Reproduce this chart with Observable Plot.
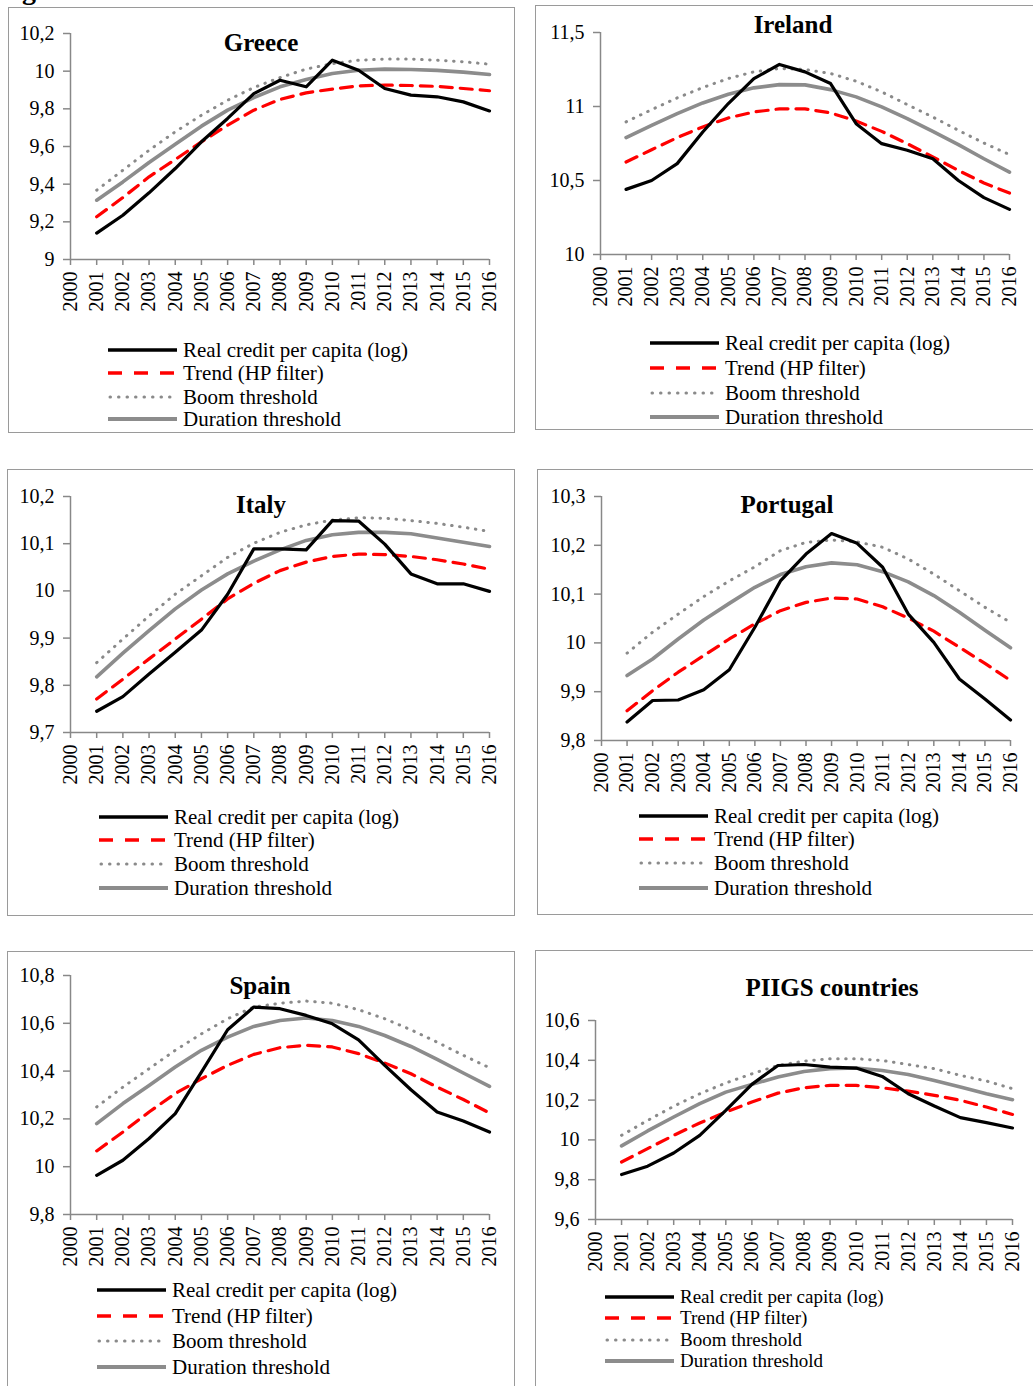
<!DOCTYPE html>
<html>
<head>
<meta charset="utf-8">
<script src="https://cdn.jsdelivr.net/npm/d3@7"></script>
<script src="https://cdn.jsdelivr.net/npm/@observablehq/plot@0.6"></script>
<style>
  html, body { margin: 0; padding: 0; background: #fff; }
  body { width: 1033px; height: 1386px; position: relative; overflow: hidden; font-family: "Liberation Serif", "Times New Roman", serif; }
  .box { position: absolute; border: 1.5px solid #9a9a9a; box-sizing: border-box; }
  .plot { position: absolute; }
  .title { position: absolute; transform: translate(-50%, -50%); font-weight: bold; font-size: 25px; white-space: nowrap; color: #000; }
  .leg { position: absolute; display: flex; align-items: center; height: 24px; font-size: 21px; white-space: nowrap; color: #000; }
  .leg svg { margin-right: 6px; }
  .fig { position: absolute; left: -3px; top: -24px; font-weight: bold; font-size: 28px; white-space: nowrap; line-height: 1; }
</style>
</head>
<body>
<div class="fig">Figure 6. Credit booms in PIIGS countries</div>
<script>
// ---------- data ----------
const years = [2001,2002,2003,2004,2005,2006,2007,2008,2009,2010,2011,2012,2013,2014,2015,2016];
const xTicks = [2000,2001,2002,2003,2004,2005,2006,2007,2008,2009,2010,2011,2012,2013,2014,2015,2016];
const seriesNames = ["Real credit per capita (log)", "Trend (HP filter)", "Boom threshold", "Duration threshold"];

const countries = ["Greece", "Ireland", "Italy", "Portugal", "Spain", "PIIGS countries"];

const greeceCredit   = [9.14,9.235,9.354,9.483,9.625,9.749,9.881,9.952,9.917,10.058,10.005,9.908,9.873,9.864,9.837,9.789];
const greeceTrend    = [9.227,9.329,9.439,9.531,9.625,9.713,9.793,9.850,9.885,9.905,9.922,9.926,9.924,9.919,9.908,9.896];
const greeceBoom     = [9.368,9.474,9.58,9.678,9.766,9.846,9.913,9.966,10.011,10.04,10.058,10.064,10.064,10.058,10.05,10.037];
const greeceDuration = [9.315,9.412,9.515,9.612,9.708,9.793,9.86,9.917,9.956,9.988,10.005,10.011,10.009,10.004,9.995,9.982];
const greeceTicks    = [9, 9.2, 9.4, 9.6, 9.8, 10, 10.2];

const irelandCredit   = [10.44,10.50,10.614,10.828,11.02,11.189,11.284,11.234,11.155,10.884,10.749,10.704,10.647,10.50,10.384,10.305];
const irelandTrend    = [10.625,10.708,10.79,10.862,10.923,10.963,10.984,10.984,10.957,10.902,10.832,10.749,10.659,10.568,10.483,10.415];
const irelandBoom     = [10.896,10.979,11.058,11.128,11.189,11.234,11.257,11.25,11.223,11.171,11.099,11.013,10.929,10.839,10.753,10.675];
const irelandDuration = [10.79,10.873,10.952,11.024,11.083,11.126,11.148,11.146,11.114,11.065,10.997,10.918,10.832,10.742,10.647,10.557];
const irelandTicks    = [10, 10.5, 11, 11.5];

const italyCredit   = [9.745,9.776,9.824,9.870,9.917,9.993,10.089,10.089,10.087,10.149,10.148,10.099,10.036,10.015,10.015,9.999];
const italyTrend    = [9.771,9.813,9.856,9.898,9.940,9.983,10.016,10.043,10.061,10.073,10.078,10.077,10.073,10.066,10.057,10.046];
const italyBoom     = [9.848,9.898,9.947,9.993,10.032,10.071,10.101,10.124,10.140,10.150,10.155,10.154,10.149,10.143,10.135,10.126];
const italyDuration = [9.818,9.868,9.916,9.962,10.002,10.036,10.063,10.087,10.107,10.119,10.124,10.124,10.121,10.112,10.103,10.094];
const italyTicks    = [9.7, 9.8, 9.9, 10, 10.1, 10.2];

const portugalCredit   = [9.838,9.882,9.883,9.904,9.945,10.032,10.127,10.182,10.224,10.204,10.155,10.059,10.001,9.926,9.885,9.842];
const portugalTrend    = [9.861,9.902,9.940,9.974,10.008,10.039,10.066,10.083,10.092,10.090,10.074,10.051,10.024,9.991,9.958,9.923];
const portugalBoom     = [9.979,10.022,10.059,10.095,10.127,10.156,10.189,10.206,10.211,10.207,10.196,10.172,10.141,10.107,10.073,10.042];
const portugalDuration = [9.933,9.967,10.008,10.047,10.081,10.114,10.140,10.156,10.164,10.160,10.146,10.125,10.097,10.063,10.026,9.990];
const portugalTicks    = [9.8, 9.9, 10, 10.1, 10.2, 10.3];

const spainCredit   = [9.964,10.027,10.118,10.222,10.396,10.573,10.668,10.661,10.633,10.598,10.531,10.424,10.322,10.229,10.191,10.145];
const spainTrend    = [10.066,10.145,10.229,10.306,10.368,10.424,10.470,10.498,10.508,10.501,10.473,10.434,10.389,10.333,10.281,10.225];
const spainBoom     = [10.25,10.333,10.41,10.487,10.556,10.619,10.668,10.684,10.693,10.684,10.657,10.619,10.573,10.521,10.466,10.414];
const spainDuration = [10.18,10.264,10.34,10.417,10.487,10.542,10.587,10.612,10.622,10.612,10.587,10.549,10.503,10.449,10.392,10.336];
const spainTicks    = [9.8, 10, 10.2, 10.4, 10.6, 10.8];

const piigsCredit   = [9.826,9.868,9.934,10.023,10.148,10.279,10.374,10.379,10.366,10.361,10.319,10.232,10.170,10.112,10.087,10.06];
const piigsTrend    = [9.889,9.956,10.023,10.085,10.14,10.19,10.235,10.262,10.274,10.274,10.262,10.245,10.224,10.199,10.165,10.128];
const piigsBoom     = [10.023,10.098,10.169,10.232,10.286,10.332,10.374,10.396,10.408,10.408,10.399,10.379,10.358,10.324,10.296,10.257];
const piigsDuration = [9.97,10.045,10.115,10.182,10.24,10.279,10.316,10.344,10.358,10.361,10.349,10.329,10.299,10.266,10.232,10.202];
const piigsTicks    = [9.6, 9.8, 10, 10.2, 10.4, 10.6];

// ---------- layout (page pixels) ----------
const panels = [
  {name: countries[0], values: [greeceCredit, greeceTrend, greeceBoom, greeceDuration], ticks: greeceTicks,
   box: {l: 8, t: 7, r: 515, b: 433}, x0: 70, x1: 489, yTop: 33, yBot: 259,
   title: [261, 43], leg: {x: 108, rows: [350, 373, 397, 419], font: 21}},
  {name: countries[1], values: [irelandCredit, irelandTrend, irelandBoom, irelandDuration], ticks: irelandTicks,
   box: {l: 535, t: 5, r: 1040, b: 430}, x0: 600, x1: 1009, yTop: 32, yBot: 254,
   title: [793, 25], leg: {x: 650, rows: [343, 368, 393, 417], font: 21}},
  {name: countries[2], values: [italyCredit, italyTrend, italyBoom, italyDuration], ticks: italyTicks,
   box: {l: 7, t: 469, r: 515, b: 916}, x0: 70, x1: 489, yTop: 496, yBot: 732,
   title: [261, 505], leg: {x: 99, rows: [817, 840, 864, 888], font: 21}},
  {name: countries[3], values: [portugalCredit, portugalTrend, portugalBoom, portugalDuration], ticks: portugalTicks,
   box: {l: 537, t: 469, r: 1040, b: 915}, x0: 601, x1: 1010, yTop: 496, yBot: 740,
   title: [787, 505], leg: {x: 639, rows: [816, 839, 863, 888], font: 21}},
  {name: countries[4], values: [spainCredit, spainTrend, spainBoom, spainDuration], ticks: spainTicks,
   box: {l: 7, t: 951, r: 515, b: 1400}, x0: 70, x1: 489, yTop: 975, yBot: 1214,
   title: [260, 986], leg: {x: 97, rows: [1290, 1316, 1341, 1367], font: 21}},
  {name: countries[5], values: [piigsCredit, piigsTrend, piigsBoom, piigsDuration], ticks: piigsTicks,
   box: {l: 535, t: 950, r: 1040, b: 1400}, x0: 595, x1: 1012, yTop: 1020, yBot: 1219,
   title: [832, 988], leg: {x: 605, rows: [1296.5, 1318, 1339.5, 1361], font: 19}}
];

const styles = [
  {stroke: "#000000", strokeWidth: 3.2},
  {stroke: "#ff0000", strokeWidth: 3.2, strokeDasharray: "12,8"},
  {stroke: "#8a8a8a", strokeWidth: 3, strokeDasharray: "0.5,7.5", strokeLinecap: "round"},
  {stroke: "#8c8c8c", strokeWidth: 3.6}
];
const drawOrder = [2, 3, 1, 0];
const fmt = d => String(d).replace(".", ",");

for (const p of panels) {
  // bordered box
  const box = document.createElement("div");
  box.className = "box";
  Object.assign(box.style, {left: p.box.l + "px", top: p.box.t + "px",
    width: (p.box.r - p.box.l) + "px", height: (p.box.b - p.box.t) + "px"});
  document.body.appendChild(box);

  const rows = [];
  p.values.forEach((vals, k) => years.forEach((yr, i) => rows.push({year: yr, value: vals[i], series: seriesNames[k], k})));

  const width = p.box.r - p.box.l;
  const height = p.yBot - p.box.t + 75;
  const chart = Plot.plot({
    width, height,
    marginLeft: p.x0 - p.box.l,
    marginRight: p.box.l + width - p.x1,
    marginTop: p.yTop - p.box.t,
    marginBottom: height - (p.yBot - p.box.t),
    x: {domain: [2000, 2016]},
    y: {domain: [p.ticks[0], p.ticks[p.ticks.length - 1]]},
    style: {fontFamily: "'Liberation Serif', 'Times New Roman', serif", fontSize: "20px", background: "transparent", overflow: "visible", color: "#000"},
    marks: [
      Plot.axisY({ticks: p.ticks, tickFormat: fmt, tickSize: 7, tickPadding: 9, stroke: "#888", strokeWidth: 1.5, fill: "#000", label: null}),
      Plot.axisX({ticks: xTicks, tickFormat: d => String(d), tickRotate: -90, tickSize: 6, tickPadding: 6, stroke: "#888", strokeWidth: 1.5, fill: "#000", label: null}),
      Plot.ruleX([2000], {stroke: "#888", strokeWidth: 1.5}),
      Plot.ruleY([p.ticks[0]], {stroke: "#888", strokeWidth: 1.5}),
      ...drawOrder.map(k => Plot.line(rows.filter(r => r.k === k), {x: "year", y: "value", ...styles[k], strokeLinejoin: "round"}))
    ]
  });
  chart.classList.add("plot");
  chart.style.left = p.box.l + "px";
  chart.style.top = p.box.t + "px";
  document.body.appendChild(chart);

  // title
  const t = document.createElement("div");
  t.className = "title";
  t.textContent = p.name;
  t.style.left = p.title[0] + "px";
  t.style.top = p.title[1] + "px";
  document.body.appendChild(t);

  // legend
  seriesNames.forEach((s, k) => {
    const row = document.createElement("div");
    row.className = "leg";
    row.style.left = p.leg.x + "px";
    row.style.top = (p.leg.rows[k] - 12) + "px";
    row.style.fontSize = p.leg.font + "px";
    const st = styles[k];
    const legDash = k === 1 ? "14,12" : (k === 2 ? "0.5,8" : "");
    row.innerHTML = `<svg width="69" height="10"><line x1="${k===2?2:0}" y1="5" x2="69" y2="5" stroke="${st.stroke}" stroke-width="${k===2?3:(k===3?4:3.4)}" ${legDash ? `stroke-dasharray="${legDash}"` : ""} ${k===2 ? 'stroke-linecap="round"' : ""}/></svg><span>${s}</span>`;
    document.body.appendChild(row);
  });
}
</script>
</body>
</html>
